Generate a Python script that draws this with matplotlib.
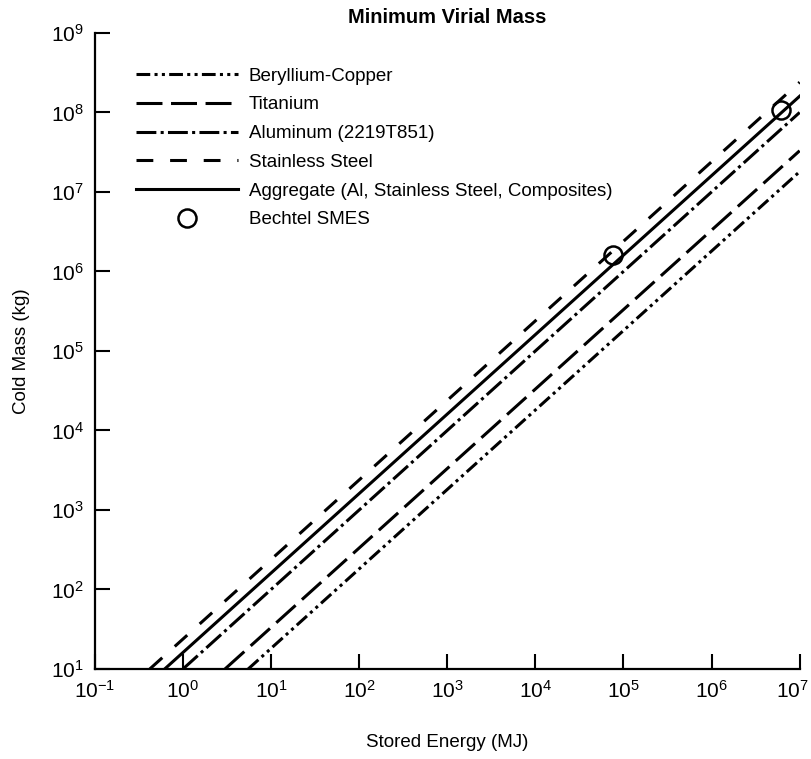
import matplotlib
matplotlib.use("Agg")
import matplotlib.pyplot as plt
import matplotlib.transforms as mtransforms
from matplotlib.ticker import FixedLocator, LogFormatterSciNotation, NullLocator

plt.rcParams['font.family'] = ['Liberation Sans', 'DejaVu Sans']
plt.rcParams['mathtext.fontset'] = 'custom'
plt.rcParams['mathtext.rm'] = 'Liberation Sans'
plt.rcParams['mathtext.it'] = 'Liberation Sans:italic'
plt.rcParams['mathtext.bf'] = 'Liberation Sans:bold'

# Data: endpoints of each line (stored energy MJ, cold mass kg)
becu_E = [5.5, 1e7]
becu_M = [10, 1.8e7]
ti_E = [3.0, 1e7]
ti_M = [10, 3.3e7]
al_E = [1.0, 1e7]
al_M = [10, 1.0e8]
ss_E = [0.42, 1e7]
ss_M = [10, 2.4e8]
agg_E = [0.62, 1e7]
agg_M = [10, 1.6e8]
bechtel_E = [7.6e4, 6.2e6]
bechtel_M = [1.6e6, 1.07e8]

x_ticks = [1e-1, 1e0, 1e1, 1e2, 1e3, 1e4, 1e5, 1e6, 1e7]
y_ticks = [1e1, 1e2, 1e3, 1e4, 1e5, 1e6, 1e7, 1e8, 1e9]

labels = ["Beryllium-Copper", "Titanium", "Aluminum (2219T851)", "Stainless Steel",
          "Aggregate (Al, Stainless Steel, Composites)", "Bechtel SMES"]

fig = plt.figure(figsize=(8.11, 7.59), dpi=100)
ax = fig.add_axes([0.117, 0.1186, 0.869, 0.838])

lw = 2.2
ax.plot(becu_E, becu_M, color='black', lw=lw, dashes=(4.5, 1.4, 1, 1.4, 1, 1.4), label=labels[0])
ax.plot(ti_E, ti_M, color='black', lw=lw, dashes=(8.5, 2.8), label=labels[1])
ax.plot(al_E, al_M, color='black', lw=lw, dashes=(6.5, 1.4, 1, 1.4), label=labels[2])
ax.plot(ss_E, ss_M, color='black', lw=lw, dashes=(5.5, 5.5), label=labels[3])
ax.plot(agg_E, agg_M, color='black', lw=lw, ls='-', label=labels[4])
ax.plot(bechtel_E, bechtel_M, ls='none', marker='o', ms=13, mfc='none', mec='black',
        mew=1.8, label=labels[5])

ax.set_xscale('log')
ax.set_yscale('log')
ax.set_xlim(x_ticks[0], x_ticks[-1])
ax.set_ylim(y_ticks[0], y_ticks[-1])
ax.xaxis.set_major_locator(FixedLocator(x_ticks))
ax.yaxis.set_major_locator(FixedLocator(y_ticks))
ax.xaxis.set_minor_locator(NullLocator())
ax.yaxis.set_minor_locator(NullLocator())
ax.xaxis.set_major_formatter(LogFormatterSciNotation())
ax.yaxis.set_major_formatter(LogFormatterSciNotation())

for s in ['top', 'right']:
    ax.spines[s].set_visible(False)
for s in ['left', 'bottom']:
    ax.spines[s].set_linewidth(1.6)
ax.tick_params(axis='both', which='major', direction='in', length=11, width=1.5,
               labelsize=15, pad=8)

ax.set_xlabel("Stored Energy (MJ)", fontsize=13.5, labelpad=23)
ax.set_ylabel("Cold Mass (kg)", fontsize=13.5, labelpad=15)
ax.set_title("Minimum Virial Mass", fontsize=14.5, fontweight='bold', pad=7)

ax.legend(loc='upper left', bbox_to_anchor=(0.035, 0.972), frameon=False, fontsize=13.5,
          handlelength=5.4, handletextpad=0.6, labelspacing=0.62)

# nudge the last x tick label left so it fits inside the figure
fig.canvas.draw()
for t in ax.xaxis.get_major_ticks():
    if abs(t.get_loc() - x_ticks[-1]) < 1:
        t.label1.set_transform(t.label1.get_transform() +
                               mtransforms.ScaledTranslation(-7 / 100, 0, fig.dpi_scale_trans))

fig.savefig("out.png", dpi=100)
